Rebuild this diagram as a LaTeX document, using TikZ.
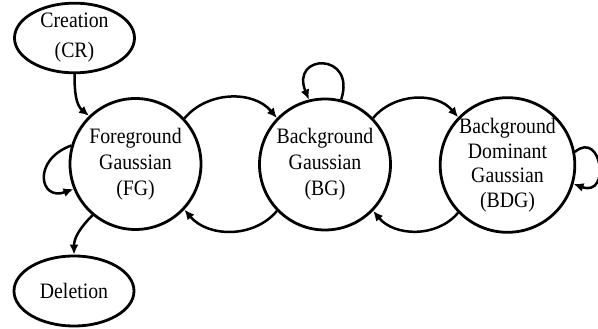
\documentclass[tikz,border=0pt]{standalone}
\usepackage{fontspec}
\setmainfont{Liberation Serif}[FakeStretch=0.9]
\usetikzlibrary{shapes.geometric,arrows.meta}
\begin{document}
\begin{tikzpicture}[x=1pt,y=1pt,
  line width=2.8pt,
  state/.style={circle,draw,minimum size=131pt,inner sep=0pt,align=center,
    font=\fontsize{22}{26}\selectfont},
  terminal/.style={ellipse,draw,minimum width=120pt,minimum height=64pt,inner sep=0pt,
    align=center,font=\fontsize{22}{30}\selectfont},
  arr/.style={line width=2.5pt,-{Latex[length=10pt,width=9pt]}}]
\useasboundingbox (0,0) rectangle (598,329);

% states of a Gaussian
\node[state] (fg)  at (135.5,165) {Foreground\\Gaussian\\(FG)};
\node[state] (bg)  at (325,164.5) {Background\\Gaussian\\(BG)};
\node[state,font=\fontsize{22}{24.5}\selectfont] (bdg) at (507.5,164) {Background\\Dominant\\Gaussian\\(BDG)};
\node[terminal] (cr)  at (74.5,291) {Creation\\(CR)};
\node[terminal,minimum height=70pt] (del) at (74,38) {Deletion};

% creation and deletion
\draw[arr] (cr.south) to[out=-90,in=140] (fg.134);
\draw[arr] (fg.-130) to[out=-135,in=90] (del.north);

% transitions between neighbouring states
\draw[arr] (fg.43) to[out=50,in=130] (bg.136);
\draw[arr] (bg.-136) to[out=-130,in=-50] (fg.-43);
\draw[arr] (bg.44) to[out=50,in=130] (bdg.136);
\draw[arr] (bdg.-136) to[out=-130,in=-50] (bg.-44);

% self loops
\draw[arr] (fg.164) .. controls +(200:42) and +(200:36) .. (fg.202);
\draw[arr] (bg.76) .. controls +(72:50) and +(112:50) .. (bg.104);
\draw[arr] (bdg.11) .. controls +(40:35) and +(-20:40) .. (bdg.-16);
\end{tikzpicture}
\end{document}
